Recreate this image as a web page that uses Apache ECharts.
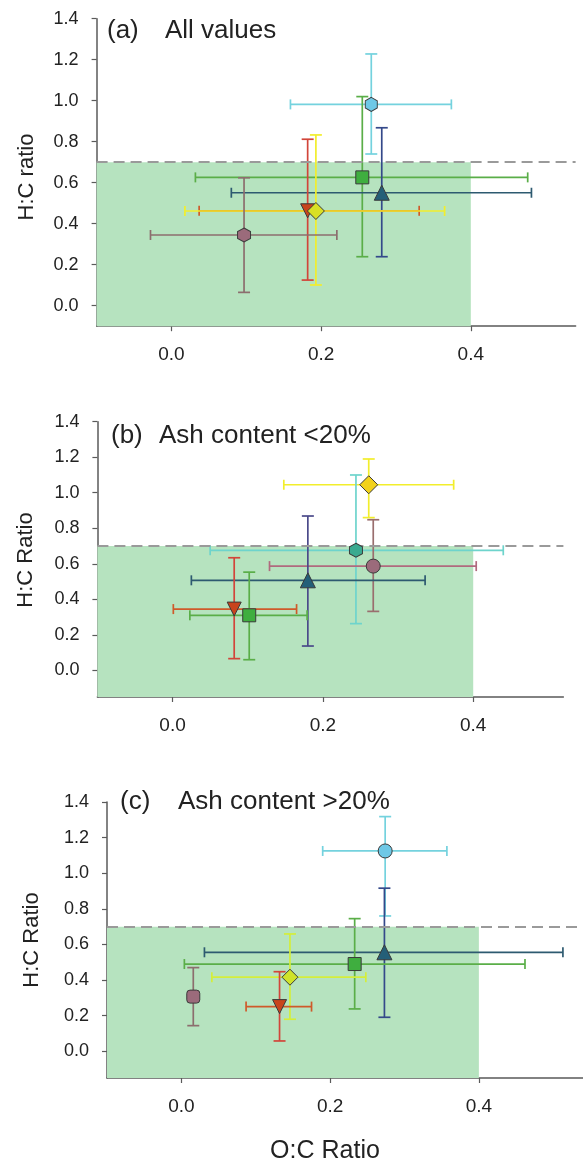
<!DOCTYPE html>
<html>
<head>
<meta charset="utf-8">
<script src="https://cdn.jsdelivr.net/npm/echarts@6/dist/echarts.min.js"></script>
<style>
html,body{margin:0;padding:0;background:#fff;}
#chart{width:583px;height:1164px;}
</style>
</head>
<body>
<div id="chart"></div>
<script>
// ---------- DATA ----------
const groups = ['Group 1', 'Group 2', 'Group 3', 'Group 4', 'Group 5', 'Group 6'];

// Panel (a) All values
const a_name = ['cyan', 'green', 'teal', 'red', 'yellow', 'mauve'];
const a_oc   = [0.267, 0.255, 0.281, 0.182, 0.193, 0.097];
const a_hc   = [0.982, 0.626, 0.551, 0.463, 0.462, 0.345];
const a_ocLo = [0.159, 0.032, 0.080, 0.037, 0.018, -0.028];
const a_ocHi = [0.374, 0.476, 0.481, 0.331, 0.365, 0.221];
const a_hcLo = [0.740, 0.239, 0.239, 0.125, 0.101, 0.065];
const a_hcHi = [1.228, 1.020, 0.868, 0.812, 0.833, 0.624];

// Panel (b) Ash content <20%
const b_name = ['yellow', 'tealhex', 'mauve', 'teal', 'red', 'green'];
const b_oc   = [0.261, 0.244, 0.267, 0.180, 0.082, 0.102];
const b_hc   = [1.045, 0.676, 0.587, 0.507, 0.345, 0.310];
const b_ocLo = [0.148, 0.050, 0.129, 0.025, 0.001, 0.023];
const b_ocHi = [0.374, 0.440, 0.404, 0.336, 0.165, 0.179];
const b_hcLo = [0.860, 0.263, 0.332, 0.137, 0.066, 0.060];
const b_hcHi = [1.190, 1.100, 0.848, 0.869, 0.634, 0.553];

// Panel (c) Ash content >20%
const c_name = ['cyan', 'teal', 'green', 'lime', 'red', 'mauve'];
const c_oc   = [0.274, 0.273, 0.233, 0.146, 0.132, 0.016];
const c_hc   = [1.125, 0.556, 0.490, 0.416, 0.251, 0.307];
const c_ocLo = [0.190, 0.031, 0.004, 0.041, 0.087, 0.016];
const c_ocHi = [0.357, 0.513, 0.462, 0.248, 0.175, 0.016];
const c_hcLo = [0.760, 0.191, 0.238, 0.180, 0.058, 0.144];
const c_hcHi = [1.318, 0.916, 0.745, 0.659, 0.447, 0.470];

const yTicks = [0, 0.2, 0.4, 0.6, 0.8, 1.0, 1.2, 1.4];
const xTicks = [0, 0.2, 0.4];
const ocLimit = 0.4;
const hcLimit = 0.7;

const panelTitles = [['(a)', 'All values'], ['(b)', 'Ash content <20%'], ['(c)', 'Ash content >20%']];
const yNames = ['H:C ratio', 'H:C Ratio', 'H:C Ratio'];
const xName = 'O:C Ratio';

// ---------- STYLE ----------
const HEX = 'path://M0,-10 L8.66,-5 L8.66,5 L0,10 L-8.66,5 L-8.66,-5 Z';
const STY = {
  cyan:    {fill: '#6ec8e6', ex: '#74d2de', ey: '#74d2de', sym: HEX, size: [12, 14]},
  green:   {fill: '#3fae3f', ex: '#5aae48', ey: '#5aae48', sym: 'rect', size: 13},
  teal:    {fill: '#245f78', ex: '#2d5a70', ey: '#34498a', sym: 'triangle', size: 15},
  red:     {fill: '#c8441c', ex: '#cf5a2a', ey: '#d2453a', sym: 'triangle', rot: 180, size: 14},
  yellow:  {fill: '#d9e024', ex: '#f2ee2c', ey: '#f2ee2c', sym: 'diamond', size: 17},
  mauve:   {fill: '#9b6b7b', ex: '#8c6e6e', ey: '#8c6e6e', sym: HEX, size: [13, 14]},
  tealhex: {fill: '#3aaa90', ex: '#6ed4cc', ey: '#6ed4cc', sym: HEX, size: [13, 14]},
  lime:    {fill: '#cfe32a', ex: '#d4ee3a', ey: '#d4ee3a', sym: 'diamond', size: 16}
};
const STY_B = Object.assign({}, STY, {
  yellow: {fill: '#f2d21c', ex: '#f2ee2c', ey: '#f2ee2c', sym: 'diamond', size: 18},
  mauve:  {fill: '#9b6b7b', ex: '#b06a7e', ey: '#9a6e6e', sym: 'circle', size: 14},
  teal:   {fill: '#245f78', ex: '#2d5a70', ey: '#4b4a8a', sym: 'triangle', size: 15}
});
const STY_C = Object.assign({}, STY, {
  cyan:  {fill: '#6ec8e6', ex: '#74d2de', ey: '#74d2de', sym: 'circle', size: 14},
  mauve: {fill: '#9b6b7b', ex: '#8c6e6e', ey: '#8c6e6e', sym: 'roundRect', size: 13},
  teal:  {fill: '#245f78', ex: '#2d5a70', ey: '#34498a', sym: 'triangle', size: 15}
});

const panels = [
  {names: a_name, oc: a_oc, hc: a_hc, ocLo: a_ocLo, ocHi: a_ocHi, hcLo: a_hcLo, hcHi: a_hcHi, sty: STY,
   grid: {left: 96.6, top: 18.7, width: 479, height: 307.5}, xMin: -0.1, xMax: 0.54, yMin: -0.1,
   title: {y: 32, l1: 107, l2: 165}, yName: {x: 27, y: 177}},
  {names: b_name, oc: b_oc, hc: b_hc, ocLo: b_ocLo, ocHi: b_ocHi, hcLo: b_hcLo, hcHi: b_hcHi, sty: STY_B,
   grid: {left: 97.4, top: 421.7, width: 466, height: 275.3}, xMin: -0.1, xMax: 0.52, yMin: -0.15,
   title: {y: 437, l1: 111, l2: 159}, yName: {x: 26, y: 560}},
  {names: c_name, oc: c_oc, hc: c_hc, ocLo: c_ocLo, ocHi: c_ocHi, hcLo: c_hcLo, hcHi: c_hcHi, sty: STY_C,
   grid: {left: 107, top: 802, width: 480, height: 276}, xMin: -0.1, xMax: 0.54, yMin: -0.15,
   title: {y: 803, l1: 120, l2: 178}, yName: {x: 32, y: 940}}
];

const FONT = '"Liberation Sans", Arial, Helvetica, sans-serif';
const AXIS_COLOR = '#5a5a5a';
const TEXT = '#222';

const grids = [], xAxes = [], yAxes = [], series = [], graphics = [];

panels.forEach((p, pi) => {
  grids.push(Object.assign({containLabel: false}, p.grid));
  xAxes.push({
    type: 'value', gridIndex: pi, min: p.xMin, max: p.xMax,
    axisLine: {show: true, onZero: false, lineStyle: {color: AXIS_COLOR, width: 1.5}},
    axisTick: {show: true, inside: false, length: 5, customValues: xTicks, lineStyle: {color: AXIS_COLOR, width: 1.2}},
    axisLabel: {show: true, margin: 19, customValues: xTicks, fontSize: 19, color: TEXT, fontFamily: FONT,
                formatter: v => v.toFixed(1)},
    splitLine: {show: false}
  });
  yAxes.push({
    type: 'value', gridIndex: pi, min: p.yMin, max: 1.4,
    axisLine: {show: true, onZero: false, lineStyle: {color: AXIS_COLOR, width: 1.5}},
    axisTick: {show: true, inside: false, length: 5, customValues: yTicks, lineStyle: {color: AXIS_COLOR, width: 1.2}},
    axisLabel: {show: true, margin: 18, customValues: yTicks, fontSize: 18, color: TEXT, fontFamily: FONT,
                formatter: v => v.toFixed(1)},
    splitLine: {show: false}
  });

  // shaded region + threshold line
  series.push({
    type: 'line', xAxisIndex: pi, yAxisIndex: pi, data: [], z: 1, silent: true,
    markArea: {silent: true, itemStyle: {color: '#b6e3bf', opacity: 1},
      data: [[{coord: [p.xMin, p.yMin]}, {coord: [ocLimit, hcLimit]}]]},
    markLine: {silent: true, symbol: ['none', 'none'], label: {show: false},
      lineStyle: {color: '#9a9a9a', width: 1.8, type: [11, 6]},
      data: [[{coord: [p.xMin, hcLimit]}, {coord: [p.xMax, hcLimit]}]]}
  });

  // error bars
  const errData = p.oc.map((v, i) => [v, p.hc[i], p.ocLo[i], p.ocHi[i], p.hcLo[i], p.hcHi[i]]);
  series.push({
    type: 'custom', xAxisIndex: pi, yAxisIndex: pi, z: 3, silent: true,
    data: errData,
    renderItem: function (params, api) {
      const s = p.sty[p.names[params.dataIndex]];
      const x = api.value(0), y = api.value(1);
      const xl = api.value(2), xh = api.value(3), yl = api.value(4), yh = api.value(5);
      const L = api.coord([xl, y]), R = api.coord([xh, y]);
      const B = api.coord([x, yl]), T = api.coord([x, yh]);
      const cap = 5, kids = [];
      const line = (x1, y1, x2, y2, c) => kids.push({type: 'line', shape: {x1, y1, x2, y2},
        style: {stroke: c, lineWidth: 1.7}});
      if (xh > xl) {
        line(L[0], L[1], R[0], R[1], s.ex);
        line(L[0], L[1] - cap, L[0], L[1] + cap, s.ex);
        line(R[0], R[1] - cap, R[0], R[1] + cap, s.ex);
      }
      if (yh > yl) {
        line(B[0], B[1], T[0], T[1], s.ey);
        line(B[0] - cap - 1, B[1], B[0] + cap + 1, B[1], s.ey);
        line(T[0] - cap - 1, T[1], T[0] + cap + 1, T[1], s.ey);
      }
      return {type: 'group', children: kids};
    }
  });

  // markers
  p.names.forEach((nm, i) => {
    const s = p.sty[nm];
    series.push({
      type: 'scatter', name: groups[i], xAxisIndex: pi, yAxisIndex: pi, z: 5,
      data: [[p.oc[i], p.hc[i]]],
      symbol: s.sym, symbolSize: s.size, symbolRotate: s.rot || 0,
      itemStyle: {color: s.fill, borderColor: '#3a3a3a', borderWidth: 1, opacity: 1},
      emphasis: {disabled: true}
    });
  });

  // titles
  graphics.push({type: 'text', left: p.title.l1, top: p.title.y - 14,
    style: {text: panelTitles[pi][0], font: '26px ' + FONT, fill: TEXT}});
  graphics.push({type: 'text', left: p.title.l2, top: p.title.y - 14,
    style: {text: panelTitles[pi][1], font: '26px ' + FONT, fill: TEXT}});
  // y name
  graphics.push({type: 'text', x: p.yName.x, y: p.yName.y, rotation: Math.PI / 2,
    style: {text: yNames[pi], font: '22px ' + FONT, fill: TEXT, align: 'center', verticalAlign: 'middle'}});
});

graphics.push({type: 'text', x: 325, y: 1151,
  style: {text: xName, font: '25px ' + FONT, fill: TEXT, align: 'center', verticalAlign: 'middle'}});

const chart = echarts.init(document.getElementById('chart'), null, {renderer: 'canvas'});
chart.setOption({
  animation: false,
  backgroundColor: '#fff',
  grid: grids, xAxis: xAxes, yAxis: yAxes, series: series,
  graphic: graphics,
  tooltip: {show: false}
});
</script>
</body>
</html>
